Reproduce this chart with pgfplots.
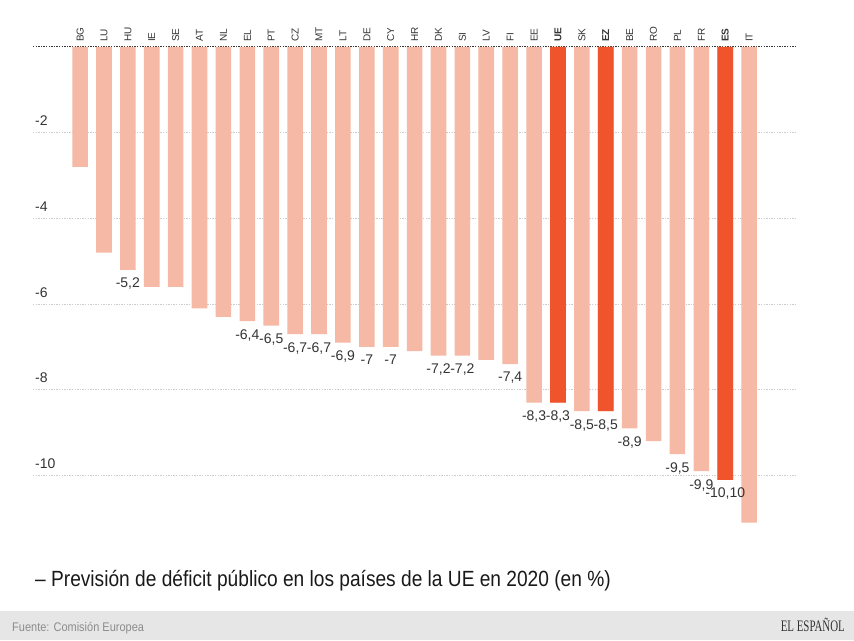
\documentclass[border=0pt]{standalone}
\usepackage{fontspec}
\setmainfont{Liberation Sans}
\newfontfamily\condfont[FakeStretch=0.87]{Liberation Sans}
\newfontfamily\footfont[FakeStretch=0.88]{Liberation Sans}
\newfontfamily\logofont[FakeStretch=0.68]{Liberation Serif}
\usepackage{pgfplots}
\usepackage{pgfplotstable}
\pgfplotsset{compat=1.18}

\definecolor{barlight}{HTML}{F5B9A6}
\definecolor{bardark}{HTML}{F0542C}
\definecolor{txt}{HTML}{333333}
\definecolor{gridc}{HTML}{CCCCCC}
\definecolor{band}{HTML}{E6E6E6}

% Forecast public deficit 2020 (% of GDP), one row per country
\pgfplotstableread{
idx val
0  -2.8
1  -4.8
2  -5.2
3  -5.6
4  -5.6
5  -6.1
6  -6.3
7  -6.4
8  -6.5
9  -6.7
10 -6.7
11 -6.9
12 -7.0
13 -7.0
14 -7.1
15 -7.2
16 -7.2
17 -7.3
18 -7.4
19 -8.3
20 -8.3
21 -8.5
22 -8.5
23 -8.9
24 -9.2
25 -9.5
26 -9.9
27 -10.1
28 -11.1
}\alldata

% Highlighted aggregates and Spain
\pgfplotstableread{
idx val
20 -8.3
22 -8.5
27 -10.1
}\darkdata

% Bars that carry a value label
\pgfplotstableread{
idx val lab
2  -5.2  -5,2
7  -6.4  -6,4
8  -6.5  -6,5
9  -6.7  -6,7
10 -6.7  -6,7
11 -6.9  -6,9
12 -7.0  -7
13 -7.0  -7
15 -7.2  -7,2
16 -7.2  -7,2
18 -7.4  -7,4
19 -8.3  -8,3
20 -8.3  -8,3
21 -8.5  -8,5
22 -8.5  -8,5
23 -8.9  -8,9
25 -9.5  -9,5
26 -9.9  -9,9
27 -10.1 -10,10
}\labdata

\begin{document}
\begin{tikzpicture}
\path[use as bounding box] (0pt,0pt) rectangle (854pt,640pt);
\fill[band] (0pt,0pt) rectangle (854pt,29pt);
\node[anchor=base west, inner sep=0pt, text=black!45, font=\footfont\fontsize{12.5}{14}\selectfont]
  at (12pt,9pt) {Fuente: Comisión Europea};
\node[anchor=base east, inner sep=0pt, text=txt, font=\logofont\fontsize{16}{18}\selectfont]
  at (845pt,9pt) {EL ESPAÑOL};
\node[anchor=base west, inner sep=0pt, text=black!90, font=\condfont\fontsize{22}{24}\selectfont]
  at (35pt,53pt) {– Previsión de déficit público en los países de la UE en 2020 (en \%)};

\begin{axis}[
  at={(33pt,593pt)}, anchor=north west,
  scale only axis, width=762pt, height=484.2pt,
  xmin=-1.97, xmax=29.92, ymin=-11.3, ymax=0,
  axis line style={draw=none}, clip=false,
  xtick={0,...,28},
  xticklabels={BG,LU,HU,IE,SE,AT,NL,EL,PT,CZ,MT,LT,DE,CY,HR,DK,SI,LV,FI,EE,\textbf{UE},SK,\textbf{EZ},BE,RO,PL,FR,\textbf{ES},IT},
  xticklabel pos=right,
  xticklabel style={rotate=90, anchor=west, font=\fontsize{10}{12}\selectfont, text=txt, inner sep=0pt, xshift=5pt},
  ytick={-10,-8,-6,-4,-2},
  yticklabels={-10,-8,-6,-4,-2},
  yticklabel pos=left,
  yticklabel style={anchor=base west, inner sep=0pt, xshift=2pt, yshift=7pt, font=\fontsize{14}{16}\selectfont, text=txt},
  major tick length=0pt,
  ymajorgrids,
  grid style={gridc, line width=1pt, dash pattern=on 1.3pt off 1.3pt},
  extra y ticks={0}, extra y tick labels={},
  extra y tick style={grid style={txt, line width=1pt, dash pattern=on 1.3pt off 1.3pt}},
]
\addplot[ybar, bar width=15.6pt, bar shift=0pt, fill=barlight, draw=none]
  table[x=idx, y=val] {\alldata};
\addplot[ybar, bar width=15.6pt, bar shift=0pt, fill=bardark, draw=none]
  table[x=idx, y=val] {\darkdata};
\addplot[draw=none, nodes near coords, point meta=explicit symbolic,
  nodes near coords style={anchor=north, yshift=-7pt, inner sep=1pt, text=txt, font=\fontsize{14}{16}\selectfont}]
  table[x=idx, y=val, meta=lab] {\labdata};
\end{axis}
\end{tikzpicture}
\end{document}
